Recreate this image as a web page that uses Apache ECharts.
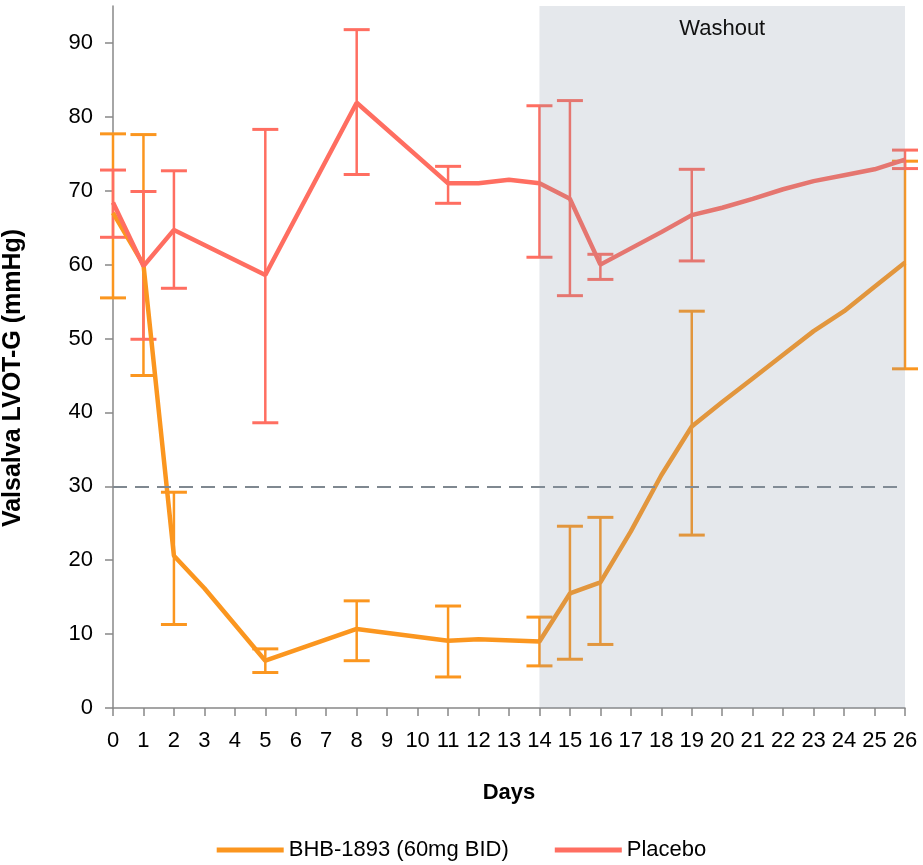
<!DOCTYPE html>
<html lang="en">
<head>
    <meta charset="UTF-8">
    <title>Valsalva LVOT-G</title>
    <script src="https://cdn.jsdelivr.net/npm/echarts@6/dist/echarts.min.js"></script>
    <style>
        html, body { margin: 0; padding: 0; background: #fff; }
    </style>
</head>
<body>
    <div id="main" style="width: 923px;height:865px;"></div>
    <script type="text/javascript">
        // Data
        const bhbDays = [0, 1, 2, 3, 5, 8, 11, 12, 14, 15, 16, 17, 18, 19, 20, 21, 22, 23, 24, 25, 26];
        const bhbValues = [67, 60, 20.6, 16.2, 6.4, 10.7, 9.1, 9.3, 9.0, 15.5, 17.0, 23.9, 31.5, 38.1, 41.4, 44.6, 47.8, 51.0, 53.7, 57.0, 60.3];
        const bhbErrDays = [0, 1, 2, 5, 8, 11, 14, 15, 16, 19, 26];
        const bhbLow = [55.5, 45.0, 11.3, 4.8, 6.4, 4.2, 5.7, 6.6, 8.6, 23.4, 45.9];
        const bhbHigh = [77.7, 77.6, 29.2, 8.0, 14.5, 13.8, 12.3, 24.6, 25.8, 53.7, 74.0];

        const placeboDays = [0, 1, 2, 5, 8, 11, 12, 13, 14, 15, 16, 17, 18, 19, 20, 21, 22, 23, 24, 25, 26];
        const placeboValues = [68.4, 59.8, 64.7, 58.6, 81.9, 71.0, 71.0, 71.5, 71.0, 68.9, 60.0, 62.2, 64.4, 66.7, 67.7, 68.9, 70.2, 71.3, 72.1, 72.9, 74.2];
        const placeboErrDays = [0, 1, 2, 5, 8, 11, 14, 15, 16, 19, 26];
        const placeboLow = [63.7, 49.9, 56.8, 38.6, 72.2, 68.3, 61.0, 55.8, 58.0, 60.5, 73.0];
        const placeboHigh = [72.8, 69.9, 72.7, 78.3, 91.8, 73.3, 81.5, 82.2, 61.4, 72.9, 75.5];

        const yTicks = [0, 10, 20, 30, 40, 50, 60, 70, 80, 90];
        const threshold = 30;
        const washout = [14, 26];

        const ORANGE = '#fb961f';
        const SALMON = '#ff6e61';
        const FONT = 'Liberation Sans, Arial, sans-serif';

        let myChart = echarts.init(document.getElementById('main'));

        const zip = (xs, ys) => xs.map((x, i) => [x, ys[i]]);
        const zip3 = (xs, lo, hi) => xs.map((x, i) => [x, lo[i], hi[i]]);

        // error bars drawn as stem + two caps
        function errorBar(color) {
            return function (params, api) {
                const top = api.coord([api.value(0), api.value(2)]);
                const bot = api.coord([api.value(0), api.value(1)]);
                const hw = 13;
                const ls = { stroke: color, lineWidth: 3 };
                return {
                    type: 'group',
                    children: [
                        { type: 'line', shape: { x1: top[0], y1: top[1], x2: bot[0], y2: bot[1] }, style: { stroke: color, lineWidth: 2.5 } },
                        { type: 'line', shape: { x1: top[0] - hw, y1: top[1], x2: top[0] + hw, y2: top[1] }, style: ls },
                        { type: 'line', shape: { x1: bot[0] - hw, y1: bot[1], x2: bot[0] + hw, y2: bot[1] }, style: ls }
                    ]
                };
            };
        }

        let options = {
            animation: false,
            textStyle: { fontFamily: FONT },
            grid: { left: 113, right: 18, top: 6, bottom: 157 },
            graphic: [{
                type: 'text',
                x: 13,
                y: 378,
                rotation: Math.PI / 2,
                style: {
                    text: 'Valsalva LVOT-G (mmHg)',
                    font: 'bold 25px ' + FONT,
                    fill: '#000',
                    align: 'center',
                    verticalAlign: 'middle'
                }
            }],
            legend: {
                data: ['BHB-1893 (60mg BID)', 'Placebo'],
                left: 'center',
                top: 834,
                icon: 'rect',
                itemWidth: 67,
                itemHeight: 5,
                itemGap: 46,
                textStyle: { fontSize: 22, color: '#000', fontFamily: FONT, padding: [0, 0, 0, 0] }
            },
            xAxis: {
                type: 'value',
                min: 0,
                max: 26,
                interval: 1,
                name: 'Days',
                nameLocation: 'middle',
                nameGap: 74,
                nameTextStyle: { fontSize: 22, fontWeight: 'bold', color: '#000', fontFamily: FONT },
                axisLine: { lineStyle: { color: '#888', width: 1.5 } },
                axisTick: { length: 8, lineStyle: { color: '#888', width: 1.5 } },
                axisLabel: { fontSize: 22, color: '#000', margin: 22, fontFamily: FONT },
                splitLine: { show: false }
            },
            yAxis: {
                type: 'value',
                min: 0,
                max: 95,
                interval: 10,
                axisLine: { show: true, lineStyle: { color: '#888', width: 1.5 } },
                axisTick: { show: true, length: 8, customValues: yTicks, lineStyle: { color: '#888', width: 1.5 } },
                axisLabel: { fontSize: 22, color: '#000', margin: 20, customValues: yTicks, fontFamily: FONT },
                splitLine: { show: false }
            },
            series: [
                {
                    name: 'bhbErr',
                    type: 'custom',
                    z: 1,
                    renderItem: errorBar(ORANGE),
                    data: zip3(bhbErrDays, bhbLow, bhbHigh),
                    encode: { x: 0, y: [1, 2] },
                    silent: true
                },
                {
                    name: 'placeboErr',
                    type: 'custom',
                    z: 2,
                    renderItem: errorBar(SALMON),
                    data: zip3(placeboErrDays, placeboLow, placeboHigh),
                    encode: { x: 0, y: [1, 2] },
                    silent: true
                },
                {
                    name: 'BHB-1893 (60mg BID)',
                    type: 'line',
                    z: 3,
                    data: zip(bhbDays, bhbValues),
                    symbol: 'none',
                    color: ORANGE,
                    lineStyle: { color: ORANGE, width: 4.5 },
                    markLine: {
                        silent: true,
                        symbol: 'none',
                        label: { show: false },
                        lineStyle: { color: '#7f8890', width: 2, type: [14, 8] },
                        data: [{ yAxis: threshold }]
                    }
                },
                {
                    name: 'Placebo',
                    type: 'line',
                    z: 4,
                    data: zip(placeboDays, placeboValues),
                    symbol: 'none',
                    color: SALMON,
                    lineStyle: { color: SALMON, width: 4.5 }
                },
                {
                    // washout shading laid over the marks
                    name: 'washout',
                    type: 'custom',
                    z: 10,
                    silent: true,
                    data: [washout],
                    encode: { x: [0, 1] },
                    renderItem: function (params, api) {
                        const a = api.coord([api.value(0), 95]);
                        const b = api.coord([api.value(1), 0]);
                        return {
                            type: 'group',
                            children: [
                                {
                                    type: 'rect',
                                    shape: { x: a[0], y: a[1], width: b[0] - a[0], height: b[1] - a[1] },
                                    style: { fill: 'rgba(135,150,168,0.22)' }
                                },
                                {
                                    type: 'text',
                                    x: (a[0] + b[0]) / 2,
                                    y: a[1] + 23,
                                    style: {
                                        text: 'Washout',
                                        fill: '#111',
                                        font: '22px ' + FONT,
                                        align: 'center',
                                        verticalAlign: 'middle'
                                    }
                                }
                            ]
                        };
                    }
                }
            ]
        };

        myChart.setOption(options);
    </script>
</body>
</html>
